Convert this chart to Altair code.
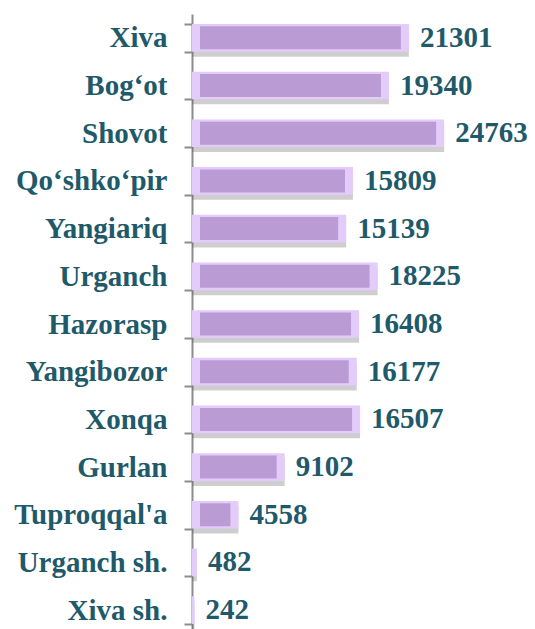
import altair as alt
import pandas as pd

districts = ["Xiva", "Bog\u2018ot", "Shovot", "Qo\u2018shko\u2018pir", "Yangiariq", "Urganch",
             "Hazorasp", "Yangibozor", "Xonqa", "Gurlan", "Tuproqqal'a", "Urganch sh.", "Xiva sh."]
values = [21301, 19340, 24763, 15809, 15139, 18225, 16408, 16177, 16507, 9102, 4558, 482, 242]

df = pd.DataFrame({"district": districts, "value": values})

TEXT = "#1F5A6A"
FONT = "Liberation Serif"
FS = 29

y = alt.Y("district:N", sort=districts, title=None,
          scale=alt.Scale(paddingInner=0.42, paddingOuter=0.21),
          axis=alt.Axis(labelFont=FONT, labelFontWeight="bold", labelFontSize=FS,
                        labelColor=TEXT, labelPadding=17, tickSize=8, tickWidth=2,
                        tickColor="#8C8C8C", domainColor="#8C8C8C", domainWidth=2,
                        tickBand="extent", grid=False))
xscale = alt.Scale(domain=[0, 32900])
x = alt.X("value:Q", title=None, scale=xscale, axis=None)
xs = alt.X("start:Q", scale=xscale, axis=None, title=None)

base = alt.Chart(df).transform_calculate(start="0")

shadow = base.mark_bar(color="#5E5E5E", opacity=0.3, yOffset=5).encode(
    x=xs, x2="value:Q", y=y)
light = base.mark_bar(color="#E4CCFA").encode(x=xs, x2="value:Q", y=y)
inner = base.transform_filter("datum.value > 1500").mark_bar(
    color="#BB9BD3", xOffset=8, x2Offset=-8, height=23).encode(
    x=xs, x2="value:Q", y=y)
labels = base.mark_text(align="left", baseline="middle", dx=11, font=FONT,
                        fontWeight="bold", fontSize=FS, color=TEXT).encode(
    x=x, y=y, text=alt.Text("value:Q", format="d"))

chart = alt.layer(shadow, light, inner, labels).properties(
    width=335, height=620,
    autosize=alt.AutoSizeParams(type="none"),
    padding={"left": 184, "top": 6, "right": 0, "bottom": 0},
).configure_view(stroke=None)

chart.save("out.html", embed_options={"renderer": "svg", "actions": False})
